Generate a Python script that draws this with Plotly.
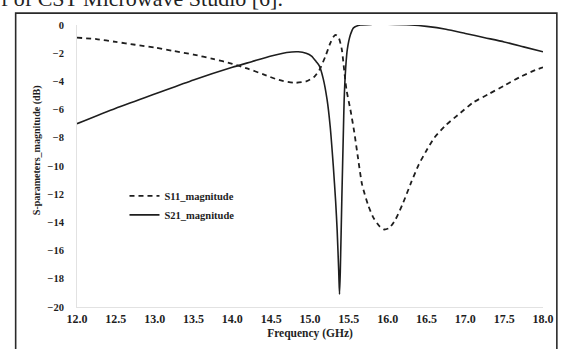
import plotly.graph_objects as go

# S11 magnitude (dB) vs frequency (GHz)
s11_freq = [12.0, 12.25, 12.5, 12.75, 13.0, 13.25, 13.5, 13.75, 14.0, 14.2, 14.4, 14.6,
            14.8, 14.95, 15.05, 15.12, 15.2, 15.26, 15.3, 15.33, 15.37, 15.41, 15.44,
            15.47, 15.52, 15.57, 15.62, 15.67, 15.75, 15.82, 15.9, 15.95, 16.02, 16.1,
            16.2, 16.3, 16.4, 16.5, 16.6, 16.75, 16.9, 17.1, 17.3, 17.5, 17.7, 17.9, 18.0]
s11_db = [-0.9, -1.0, -1.2, -1.4, -1.6, -1.85, -2.1, -2.4, -2.75, -3.1, -3.5, -3.9,
          -4.1, -4.0, -3.7, -3.2, -2.2, -1.3, -0.85, -0.7, -0.9, -1.75, -3.2,
          -4.6, -6.0, -7.6, -9.5, -11.3, -12.8, -13.7, -14.3, -14.5, -14.4, -13.8,
          -12.6, -11.2, -9.9, -8.9, -8.0, -7.1, -6.4, -5.5, -4.9, -4.3, -3.7, -3.2, -3.0]

# S21 magnitude (dB) vs frequency (GHz)
s21_freq = [12.0, 12.5, 13.0, 13.5, 14.0, 14.25, 14.5, 14.7, 14.85, 14.95, 15.02, 15.08,
            15.12, 15.17, 15.22, 15.26, 15.3, 15.33, 15.35, 15.37, 15.38, 15.39, 15.41,
            15.43, 15.44, 15.46, 15.48, 15.52, 15.56, 15.65, 15.8, 16.0, 16.3, 16.5,
            16.75, 17.0, 17.25, 17.5, 17.75, 18.0]
s21_db = [-7.0, -5.9, -4.9, -3.9, -3.0, -2.6, -2.2, -1.95, -1.9, -2.0, -2.2, -2.6,
          -2.9, -3.8, -5.3, -7.2, -10.0, -12.5, -14.6, -17.5, -19.1, -17.5, -12.3,
          -7.5, -5.3, -3.0, -1.75, -0.7, -0.2, 0.0, 0.05, 0.05, 0.0, -0.1,
          -0.3, -0.6, -0.9, -1.2, -1.55, -1.9]

x_ticks = [12.0, 12.5, 13.0, 13.5, 14.0, 14.5, 15.0, 15.5, 16.0, 16.5, 17.0, 17.5, 18.0]
y_ticks = [0, -2, -4, -6, -8, -10, -12, -14, -16, -18, -20]

SERIF = "Liberation Serif, Times New Roman, serif"
INK = "#1e1e1e"

# plot area in pixels (figure 566 x 349)
L, R, T, B = 77, 18, 25, 39
W = 566 - L - R
H = 349 - T - B


def px_x(p):
    return (p - L) / W


def px_y(p):
    return (349 - B - p) / H


fig = go.Figure()
fig.add_trace(go.Scatter(
    x=s11_freq, y=s11_db, mode="lines", name="S11_magnitude",
    line=dict(color=INK, width=1.8, dash="5px,4px", shape="spline", smoothing=0.6),
))
fig.add_trace(go.Scatter(
    x=s21_freq, y=s21_db, mode="lines", name="S21_magnitude",
    line=dict(color=INK, width=1.6, shape="spline", smoothing=0.6),
))

fig.update_layout(
    width=566, height=349,
    margin=dict(l=L, r=R, t=T, b=B),
    paper_bgcolor="white", plot_bgcolor="white",
    font=dict(family=SERIF, color=INK, size=10, weight="bold"),
    showlegend=True,
    legend=dict(
        x=px_x(125), y=px_y(183), xanchor="left", yanchor="top",
        bgcolor="rgba(0,0,0,0)", font=dict(family=SERIF, size=10.5, weight="bold"),
        itemwidth=30, tracegroupgap=0,
    ),
)

fig.update_xaxes(
    range=[12.0, 18.0], tickvals=x_ticks, tickformat=".1f",
    showgrid=False, zeroline=False, showline=True, linecolor="#e2e2e2", linewidth=1,
    ticks="", tickfont=dict(family=SERIF, size=12, weight="bold"),
    ticklabelstandoff=1,
    title=dict(text="Frequency (GHz)", font=dict(family=SERIF, size=11.5, weight="bold"),
               standoff=3),
)
fig.update_yaxes(
    range=[-20, 0], tickvals=y_ticks,
    showgrid=False, zeroline=False, showline=True, linecolor="#e2e2e2", linewidth=1,
    ticks="", tickfont=dict(family=SERIF, size=10.5, weight="bold"),
    ticklabelstandoff=10,
)

# y-axis title
fig.add_annotation(
    text="S-parameters_magnitude (dB)", xref="paper", yref="paper",
    x=px_x(28), y=px_y(152), textangle=-90, showarrow=False,
    font=dict(family=SERIF, size=10, weight="bold"),
)

# running text of the page above the figure
fig.add_annotation(
    text="f of CST Microwave Studio [6].", xref="paper", yref="paper",
    x=px_x(-2), y=px_y(13), xanchor="left", yanchor="bottom", showarrow=False,
    font=dict(family=SERIF, size=22, color="#222", weight="normal"),
)

# figure frame
fig.add_shape(
    type="rect", xref="paper", yref="paper",
    x0=px_x(15), x1=px_x(562), y0=px_y(370), y1=px_y(13),
    line=dict(color="#2a2a2a", width=1.6), fillcolor="rgba(0,0,0,0)", layer="above",
)

fig.write_html("out.html")
